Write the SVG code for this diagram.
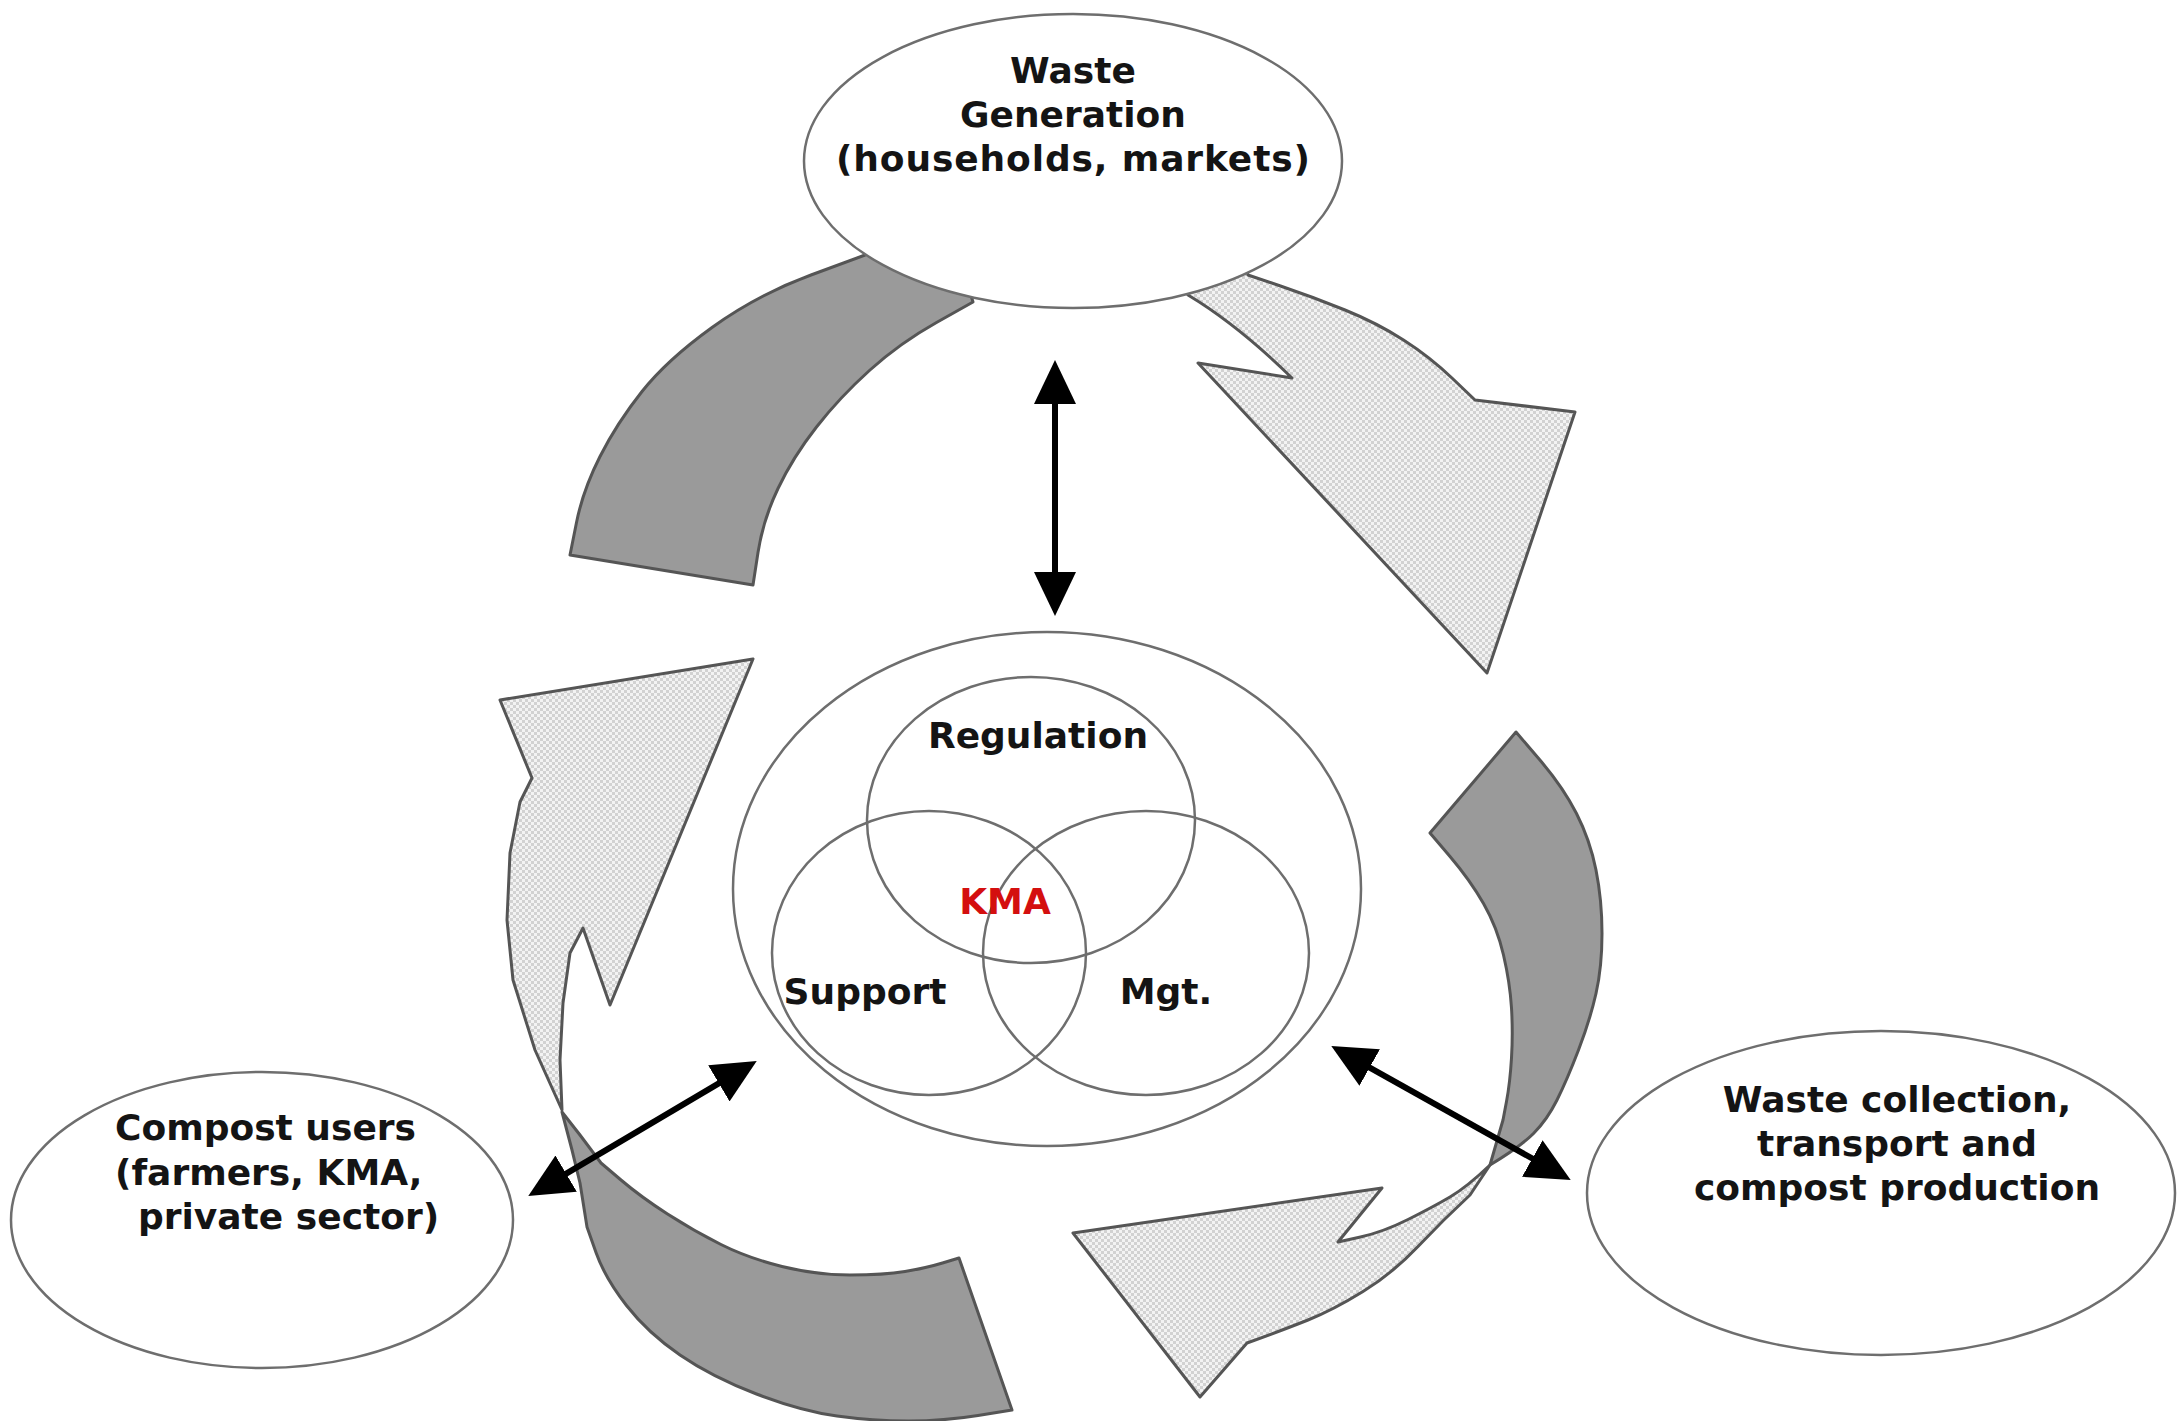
<svg xmlns="http://www.w3.org/2000/svg" width="2179" height="1421" viewBox="0 0 2179 1421">
<defs>
<pattern id="dots" patternUnits="userSpaceOnUse" width="6" height="6">
<rect width="6" height="6" fill="#f3f3f3"/>
<rect width="3" height="3" fill="#d2d2d2"/>
<rect x="3" y="3" width="3" height="3" fill="#d2d2d2"/>
</pattern>
<marker id="head" markerUnits="userSpaceOnUse" markerWidth="44" markerHeight="42" refX="22" refY="21" orient="auto-start-reverse">
<path d="M0,0 L44,21 L0,42 Z" fill="#000"/>
</marker>
<style>
.dark{fill:#9a9a9a;stroke:#555;stroke-width:3;stroke-linejoin:round}
.light{fill:url(#dots);stroke:#555;stroke-width:3;stroke-linejoin:round}
.node{fill:#fff;stroke:#6e6e6e;stroke-width:2.5}
.ring{fill:none;stroke:#6e6e6e;stroke-width:2.5}
.t{font-family:"DejaVu Sans","Liberation Sans",sans-serif;font-weight:bold;font-size:36px;fill:#141414;text-anchor:middle}
.conn{stroke:#000;stroke-width:6;fill:none;marker-start:url(#head);marker-end:url(#head)}
</style>
</defs>
<rect width="2179" height="1421" fill="#fff"/>

<g id="cycle-arrows">
<path id="arrow-a" class="dark" d="M870,230 L865,255 L811,275 Q757,295 712,327.5 Q667,360 642,391.5 Q617,423 600,456.5 Q583,490 576.5,522.5 L570,555 L753,585 L758,552.5 Q763,520 778,488.5 Q793,457 816.5,427 Q840,397 870,370 Q900,343 936.5,322.5 L973,302 L960,260 Z"/>
<path id="arrow-b" class="light" d="M1180,280 L1245,262 L1248,275 L1280.5,286 Q1313,297 1345,310 Q1377,323 1403.5,340 Q1430,357 1452.5,378.5 L1475,400 L1575,412 L1487,673 L1198,363 L1292,378 Q1238,325 1188,295 Z"/>
<path id="arrow-c" class="dark" d="M1516,732 L1539.5,759.5 Q1563,787 1576.5,813.5 Q1590,840 1596,870 Q1602,900 1602,933.5 Q1602,967 1596,993.5 Q1590,1020 1578.5,1050 Q1567,1080 1557,1100 Q1547,1120 1533.5,1133.5 Q1520,1147 1490,1165 L1503,1120 L1506.5,1101.5 Q1510,1083 1511.5,1058 Q1513,1033 1511.5,1008 Q1510,983 1503.5,955 Q1497,927 1483.5,903.5 Q1470,880 1450,856.5 L1430,833 Z"/>
<path id="arrow-d" class="light" d="M1073,1233 L1382,1188 L1338,1242 L1360.5,1237 Q1383,1232 1408,1219.5 Q1433,1207 1450,1197 Q1467,1187 1490,1165 L1470,1195 Q1443,1220 1418,1246.5 Q1393,1273 1363,1291.5 Q1333,1310 1308,1320 Q1283,1330 1247,1343 L1200,1397 Z"/>
<path id="arrow-e" class="light" d="M753,659 L500,700 L532,778 L520,802 L510,853 L507,920 L513,980 L535,1050 L562,1110 L560,1060 L563,1003 L570,953 L583,928 L610,1005 Z"/>
<path id="arrow-f" class="dark" d="M562,1112 L572,1150 L580,1183 L587,1227 L596,1252.5 Q605,1278 626.5,1305.5 Q648,1333 680,1355 Q712,1377 756.5,1394 Q801,1411 837,1416 Q873,1421 908.5,1421 Q944,1421 978,1415.5 L1012,1410 L959,1258 L942.5,1263 Q926,1268 905,1271.5 Q884,1275 850,1275 Q816,1275 782,1266.5 Q748,1258 721,1244.5 Q694,1231 667.5,1214 Q641,1197 621,1180 L601,1163 L580,1135 Z"/>
</g>

<g id="waste-generation">
<ellipse class="node" cx="1073" cy="161" rx="269" ry="147"/>
<text class="t" x="1073" y="83">Waste</text>
<text class="t" x="1073" y="127">Generation</text>
<text class="t" x="1073" y="171" textLength="474" lengthAdjust="spacing">(households, markets)</text>
</g>

<g id="kma">
<ellipse class="node" cx="1047" cy="889" rx="314" ry="257"/>
<ellipse class="ring" cx="1031" cy="820" rx="164" ry="143"/>
<ellipse class="ring" cx="929" cy="953" rx="157" ry="142"/>
<ellipse class="ring" cx="1146" cy="953" rx="163" ry="142"/>
<text class="t" x="1038" y="748">Regulation</text>
<text class="t" x="1005" y="914" style="fill:#d40f0f">KMA</text>
<text class="t" x="865" y="1004">Support</text>
<text class="t" x="1166" y="1004">Mgt.</text>
</g>

<g id="waste-collection">
<ellipse class="node" cx="1881" cy="1193" rx="294" ry="162"/>
<text class="t" x="1897" y="1112">Waste collection,</text>
<text class="t" x="1897" y="1156">transport and</text>
<text class="t" x="1897" y="1200">compost production</text>
</g>

<g id="compost-users">
<ellipse class="node" cx="262" cy="1220" rx="251" ry="148"/>
<text class="t" x="115" y="1140" style="text-anchor:start">Compost users</text>
<text class="t" x="115" y="1185" style="text-anchor:start">(farmers, KMA,</text>
<text class="t" x="138" y="1229" style="text-anchor:start">private sector)</text>
</g>

<g id="connectors">
<line class="conn" x1="1055" y1="382" x2="1055" y2="594"/>
<line class="conn" x1="547.2" y1="1184.8" x2="737.8" y2="1072.2"/>
<line class="conn" x1="1350.5" y1="1056.8" x2="1551.5" y2="1169.2"/>
</g>
</svg>
